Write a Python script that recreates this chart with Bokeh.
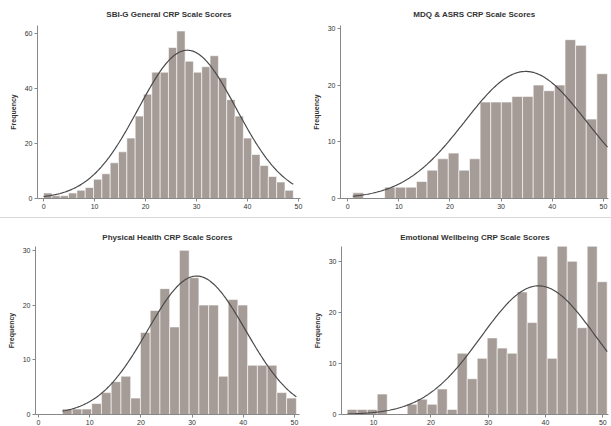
import numpy as np
from bokeh.plotting import figure
from bokeh.layouts import column, row
from bokeh.models import FixedTicker, Range1d
from bokeh.embed import file_html
from bokeh.resources import INLINE

# ---------------- data ----------------
titles = [
    "SBI-G General CRP Scale Scores",
    "MDQ & ASRS CRP Scale Scores",
    "Physical Health CRP Scale Scores",
    "Emotional Wellbeing CRP Scale Scores",
]

# panel 1 (top-left)
p1_counts = [2, 1, 1, 2, 3, 4, 7, 9, 13, 17, 22, 30, 38, 46, 46, 55, 61, 50, 46, 48,
             52, 44, 36, 30, 22, 16, 12, 8, 6, 3]
p1_bin_start = 0.0
p1_bin_width = 1.633
p1_fit = dict(mean=28.2, sd=9.6, peak=54.0)
p1_xticks = [0, 10, 20, 30, 40, 50]
p1_yticks = [0, 20, 40, 60]

# panel 2 (top-right)
p2_counts = [1, 0, 0, 2, 2, 2, 3, 5, 7, 8, 5, 7, 17, 17, 17, 18, 18, 20, 19, 20,
             28, 27, 14, 22]
p2_bin_start = 1.0
p2_bin_width = 2.075
p2_fit = dict(mean=34.8, sd=11.9, peak=22.4)
p2_xticks = [0, 10, 20, 30, 40, 50]
p2_yticks = [0, 10, 20, 30]

# panel 3 (bottom-left)
p3_counts = [1, 1, 1, 2, 4, 6, 7, 3, 15, 19, 23, 16, 30, 25, 20, 20, 7, 21, 20, 9,
             9, 9, 4, 3]
p3_bin_start = 4.67
p3_bin_width = 1.905
p3_fit = dict(mean=30.9, sd=9.6, peak=25.3)
p3_xticks = [0, 10, 20, 30, 40, 50]
p3_yticks = [0, 10, 20, 30]

# panel 4 (bottom-right)
p4_counts = [1, 1, 1, 4, 0, 0, 2, 3, 2, 5, 1, 12, 7, 11, 15, 13, 12, 24, 18, 31,
             11, 33, 30, 17, 33, 26]
p4_bin_start = 5.4
p4_bin_width = 1.745
p4_fit = dict(mean=38.8, sd=10.0, peak=25.2)
p4_xticks = [10, 20, 30, 40, 50]
p4_yticks = [0, 10, 20, 30]

BAR = "#a59b97"
FONT = "Liberation Sans"


def panel(title, counts, start, width, fit, xticks, yticks, xr, yr, w, h,
          bl, br, bt, bb, title_standoff):
    counts = np.asarray(counts, dtype=float)
    n = len(counts)
    left = start + width * np.arange(n)
    right = left + width
    p = figure(width=w, height=h, output_backend="svg", toolbar_location=None,
               x_range=Range1d(*xr), y_range=Range1d(*yr),
               min_border_left=bl, min_border_right=br, min_border_top=bt,
               min_border_bottom=bb)
    p.title.text = title
    p.title.align = "center"
    p.title.text_font = FONT
    p.title.text_font_size = "8px"
    p.title.text_font_style = "bold"
    p.title.text_color = "#333333"
    p.title.standoff = title_standoff
    p.outline_line_color = None
    p.xgrid.visible = False
    p.ygrid.visible = False
    p.quad(left=left, right=right, bottom=0, top=counts,
           fill_color=BAR, line_color="white", line_width=0.6)
    xs = np.linspace(start, start + width * n, 200)
    ys = fit["peak"] * np.exp(-0.5 * ((xs - fit["mean"]) / fit["sd"]) ** 2)
    p.line(xs, ys, line_color="#4a4a4a", line_width=1.2)
    for ax in (p.xaxis[0], p.yaxis[0]):
        ax.axis_line_color = "#888888"
        ax.major_tick_line_color = "#888888"
        ax.minor_tick_line_color = None
        ax.major_label_text_font = FONT
        ax.major_label_text_font_size = "7px"
        ax.major_label_text_color = "#333333"
        ax.major_tick_out = 3
        ax.major_tick_in = 0
        ax.major_label_standoff = 2
    p.xaxis.ticker = FixedTicker(ticks=xticks)
    p.yaxis.ticker = FixedTicker(ticks=yticks)
    p.yaxis.axis_label = "Frequency"
    p.yaxis.axis_label_text_font = FONT
    p.yaxis.axis_label_text_font_size = "7px"
    p.yaxis.axis_label_text_font_style = "bold"
    p.yaxis.axis_label_text_color = "#333333"
    p.yaxis.axis_label_standoff = 5
    return p


f1 = panel(titles[0], p1_counts, p1_bin_start, p1_bin_width, p1_fit, p1_xticks, p1_yticks,
           (-1.2, 50.4), (0, 63), 305, 217, 37, 5, 25, 19, 13)
f2 = panel(titles[1], p2_counts, p2_bin_start, p2_bin_width, p2_fit, p2_xticks, p2_yticks,
           (-1.4, 51.0), (0, 30.5), 306, 217, 35, 3, 25, 19, 13)
f3 = panel(titles[2], p3_counts, p3_bin_start, p3_bin_width, p3_fit, p3_xticks, p3_yticks,
           (-0.6, 51.0), (0, 30.7), 305, 209, 35, 6, 28, 11, 10)
f4 = panel(titles[3], p4_counts, p4_bin_start, p4_bin_width, p4_fit, p4_xticks, p4_yticks,
           (4.4, 51.0), (0, 32.9), 306, 209, 36, 3, 28, 11, 10)
f3.styles = {"border-top": "1px solid #d8d8d8"}
f4.styles = {"border-top": "1px solid #d8d8d8"}

layout = column(row(f1, f2, spacing=0), row(f3, f4, spacing=0), spacing=0)
open("out.html", "w").write(file_html(layout, INLINE))
